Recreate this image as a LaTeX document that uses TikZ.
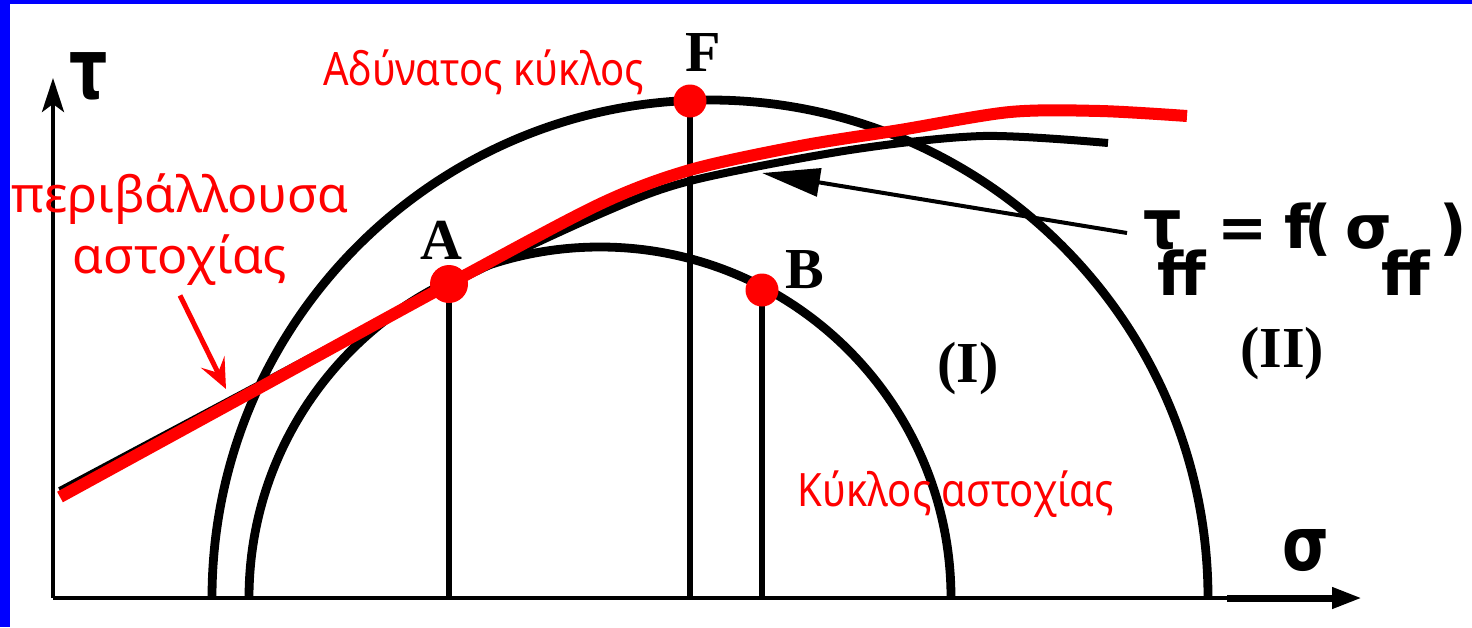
\documentclass[tikz,border=0pt]{standalone}
\usepackage{fontspec}
\setmainfont{Liberation Serif}
\newfontfamily\grkfont{Noto Sans}
\newfontfamily\symfont{DejaVu Sans}
\usetikzlibrary{arrows.meta}
\definecolor{envred}{HTML}{FF0000}
\definecolor{frameblue}{HTML}{0000FF}
\newcommand{\narrow}[1]{\scalebox{0.87}[1]{#1}}
\newcommand{\putat}[2]{\makebox[0pt][l]{\hspace{#1}#2}}
\newcommand{\lowff}{\raisebox{-23.5pt}{ff}}

\tikzset{
  redlabel/.style={text=envred,inner sep=0pt,anchor=base west,font=\grkfont\fontsize{23pt}{28pt}\selectfont},
  ptlabel/.style={inner sep=0pt,anchor=base west,font=\bfseries\fontsize{29pt}{32pt}\selectfont},
  symlabel/.style={inner sep=0pt,anchor=base west,font=\symfont\bfseries\fontsize{30pt}{34pt}\selectfont},
  dot/.style={circle,fill=envred,inner sep=0pt,minimum size=16.5pt},
  mohr/.style={line width=4.4pt},
  stem/.style={line width=2.8pt},
}

\begin{document}
\begin{tikzpicture}[x=0.5pt,y=-0.5pt]
  \useasboundingbox (0,0) rectangle (1472,627);
  \fill[frameblue] (0,0) rectangle (1472,627);
  \fill[white] (10,3.5) rectangle (1472,627);

  % axes
  \coordinate (O) at (53,598);
  \coordinate (Ttip) at (53,78);
  \coordinate (Sbreak) at (1227,598);
  \coordinate (Stip) at (1362,598);
  \draw[line width=2pt,-{Stealth[length=17pt,width=11pt,inset=4pt]}] (O) -- (Ttip);
  \draw[line width=2.2pt] (O) -- (Sbreak);
  \draw[line width=3.5pt,-{Triangle[length=15pt,width=10pt]}] (Sbreak) -- (Stip);

  % Mohr circles
  \draw[mohr] (212,598) arc[start angle=180,end angle=360,radius=498];
  \draw[mohr] (249,598) arc[start angle=180,end angle=360,radius=351];

  % stress points and their stems
  \coordinate (pA) at (449,284);
  \coordinate (pB) at (762,290);
  \coordinate (pF) at (690,101);
  \draw[stem] (pA) -- (pA |- O);
  \draw[stem] (pB) -- (pB |- O);
  \draw[stem] (pF) -- (pF |- O);

  % envelopes
  \draw[line width=4pt] plot[smooth,tension=0.5] coordinates
    {(60,491) (250,390) (449,285) (600,214) (690,181) (850,150) (983,136) (1108,143)};
  \draw[envred,line width=6pt] plot[smooth,tension=0.5] coordinates
    {(60,497) (250,393) (449,284) (600,204) (690,170) (800,146) (900,130) (1010,112) (1100,111) (1187,116)};
  \node[dot,minimum size=19pt] (A) at (pA) {};
  \node[dot] (B) at (pB) {};
  \node[dot] (F) at (pF) {};

  % labels
  \node[symlabel] (tau) at (69,98) {\scalebox{1}[1.4]{τ}};
  \node[symlabel] (sigma) at (1282,570) {\scalebox{1}[1.25]{σ}};
  \node[ptlabel] (lA) at (420,259) {A};
  \node[ptlabel] (lB) at (785,288) {B};
  \node[ptlabel] (lF) at (685,71) {F};
  \node[ptlabel] (reg1) at (937,382) {(I)};
  \node[ptlabel] (reg2) at (1240,367) {(II)};
  \node[redlabel] (imposs) at (323,85) {\narrow{Αδύνατος κύκλος}};
  \node[redlabel] (failc) at (797,506) {\narrow{Κύκλος αστοχίας}};
  \node[redlabel,anchor=base,align=center,font=\grkfont\fontsize{25pt}{30.5pt}\selectfont] (envtxt) at (180,273) {περιβάλλουσα\\αστοχίας};
  \node[symlabel] (law) at (1142,248)
    {\putat{0pt}{\scalebox{1}[1.15]{τ}}\putat{7pt}{\lowff}\putat{37pt}{=}\putat{70.5pt}{f}%
     \putat{80.5pt}{(}\putat{101pt}{σ}\putat{119pt}{\lowff}\putat{148pt}{)}\hspace{160pt}};

  % pointers
  \coordinate (lawtail) at (1127,233);
  \coordinate (lawtip) at (762,173);
  \draw[line width=2pt,-{Triangle[length=29pt,width=14pt]}] (lawtail) -- (lawtip);
  \coordinate (envtip) at (226,389);
  \draw[envred,line width=2.5pt,-{Stealth[length=15pt,width=13pt,inset=6pt]}] (envtxt.south) ++(0,10) -- (envtip);
\end{tikzpicture}
\end{document}
